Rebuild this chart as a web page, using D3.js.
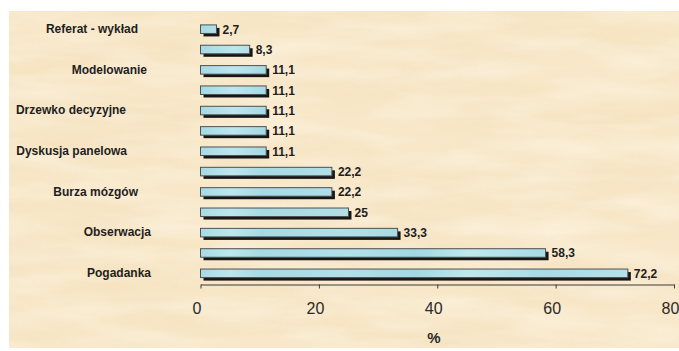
<!DOCTYPE html>
<html>
<head>
<meta charset="utf-8">
<script src="https://cdn.jsdelivr.net/npm/d3@7/dist/d3.min.js"></script>
<style>
  html, body { margin: 0; padding: 0; background: #ffffff; }
  svg { display: block; }
</style>
</head>
<body>
<script>
// Metody pracy — odsetek wskazań (%)
const categories = [
  "Referat - wykład", "", "Modelowanie", "", "Drzewko decyzyjne", "",
  "Dyskusja panelowa", "", "Burza mózgów", "", "Obserwacja", "", "Pogadanka"
];
const values = [2.7, 8.3, 11.1, 11.1, 11.1, 11.1, 11.1, 22.2, 22.2, 25, 33.3, 58.3, 72.2];
const xTicks = [0, 20, 40, 60, 80];
const axisTitle = "%";

const W = 679, H = 351;
const svg = d3.select("body").append("svg").attr("width", W).attr("height", H);
const defs = svg.append("defs");

// parchment texture
const f = defs.append("filter").attr("id", "parch")
  .attr("x", 0).attr("y", 0).attr("width", "100%").attr("height", "100%");
f.append("feTurbulence").attr("type", "fractalNoise")
  .attr("baseFrequency", "0.006 0.03").attr("numOctaves", 4).attr("seed", 7).attr("result", "n");
f.append("feColorMatrix").attr("in", "n").attr("type", "matrix")
  .attr("values", "0 0 0 0 0.88  0 0 0 0 0.70  0 0 0 0 0.45  1.6 0 0 0 -0.6");

const f2 = defs.append("filter").attr("id", "parchLight")
  .attr("x", 0).attr("y", 0).attr("width", "100%").attr("height", "100%");
f2.append("feTurbulence").attr("type", "fractalNoise")
  .attr("baseFrequency", "0.01 0.05").attr("numOctaves", 3).attr("seed", 21).attr("result", "n");
f2.append("feColorMatrix").attr("in", "n").attr("type", "matrix")
  .attr("values", "0 0 0 0 1  0 0 0 0 0.97  0 0 0 0 0.9  1.6 0 0 0 -0.6");

// bar fill
const g = defs.append("linearGradient").attr("id", "barFill")
  .attr("gradientUnits", "userSpaceOnUse")
  .attr("x1", 200).attr("y1", 0).attr("x2", 640).attr("y2", 8);
[[0, "#a4d9e3"], [0.08, "#bde6ee"], [0.15, "#a6dae4"], [0.35, "#b2e0e9"],
 [0.5, "#a3d8e2"], [0.62, "#bfe7ee"], [0.8, "#a8dbe5"], [1, "#b6e2ea"]]
  .forEach(([o, c]) => g.append("stop").attr("offset", o).attr("stop-color", c));

// background panel
const bg = svg.append("g");
bg.append("rect").attr("x", 9).attr("y", 11).attr("width", W - 9).attr("height", 337).attr("fill", "#f8e8c9");
bg.append("rect").attr("x", 9).attr("y", 11).attr("width", W - 9).attr("height", 337)
  .attr("filter", "url(#parch)").attr("opacity", 0.6);
bg.append("rect").attr("x", 9).attr("y", 11).attr("width", W - 9).attr("height", 337)
  .attr("filter", "url(#parchLight)").attr("opacity", 0.5);

// scales
const x = d3.scaleLinear().domain([0, 80]).range([200.5, 674]);
const y = d3.scaleBand().domain(d3.range(values.length)).range([19, 283.5])
  .paddingInner(0.58).paddingOuter(0.29);

const bars = svg.append("g");
const sh = 3;
// drop shadows
bars.selectAll("rect.shadow").data(values).join("rect")
  .attr("class", "shadow")
  .attr("x", x(0) + sh).attr("y", (d, i) => y(i) + sh)
  .attr("width", d => x(d) - x(0)).attr("height", y.bandwidth())
  .attr("fill", "#161616");
// bars
bars.selectAll("rect.bar").data(values).join("rect")
  .attr("class", "bar")
  .attr("x", x(0)).attr("y", (d, i) => y(i))
  .attr("width", d => x(d) - x(0)).attr("height", y.bandwidth())
  .attr("fill", "url(#barFill)").attr("stroke", "#505050").attr("stroke-width", 1);

// value labels
svg.append("g").selectAll("text").data(values).join("text")
  .attr("x", d => x(d) + 6)
  .attr("y", (d, i) => y(i) + y.bandwidth() / 2 + 4.5)
  .attr("font-family", "Liberation Sans, Arial, sans-serif")
  .attr("font-weight", "bold").attr("font-size", 12).attr("fill", "#1e1e1e")
  .text(d => String(d).replace(".", ","));

// category labels, hand-placed right edges
const labelEnds = [138, 0, 147, 0, 126, 0, 127, 0, 138, 0, 151, 0, 151];
svg.append("g").selectAll("text")
  .data(categories.map((c, i) => ({ c, i })).filter(d => d.c))
  .join("text")
  .attr("x", d => labelEnds[d.i])
  .attr("y", d => y(d.i) + y.bandwidth() / 2 + 3.8)
  .attr("text-anchor", "end")
  .attr("font-family", "Liberation Sans, Arial, sans-serif")
  .attr("font-weight", "bold").attr("font-size", 12).attr("fill", "#1e1e1e")
  .text(d => d.c);

// x axis
const ax = svg.append("g").attr("transform", "translate(0,284.5)")
  .call(d3.axisBottom(x).tickValues(xTicks).tickSize(4).tickSizeOuter(0).tickPadding(14));
ax.select(".domain").attr("stroke", "#3a3a3a");
ax.selectAll(".tick line").attr("stroke", "#3a3a3a");
ax.selectAll(".tick text")
  .attr("dx", -4)
  .attr("font-family", "Liberation Sans, Arial, sans-serif")
  .attr("font-size", 16).attr("fill", "#2a2a2a");

svg.append("text")
  .attr("x", 434).attr("y", 343)
  .attr("text-anchor", "middle")
  .attr("font-family", "Liberation Sans, Arial, sans-serif")
  .attr("font-weight", "bold").attr("font-size", 15).attr("fill", "#2a2a2a")
  .text(axisTitle);
</script>
</body>
</html>
